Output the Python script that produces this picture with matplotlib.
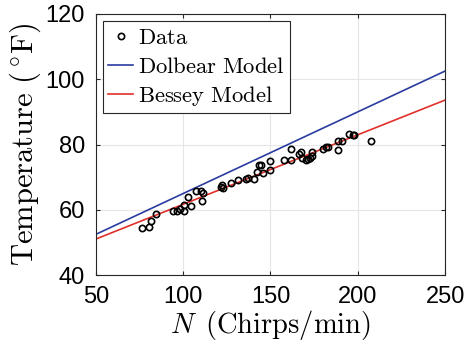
import matplotlib
matplotlib.use("Agg")
import matplotlib.pyplot as plt
import numpy as np

plt.rcParams['mathtext.fontset'] = 'cm'
plt.rcParams['font.family'] = ['Liberation Sans', 'DejaVu Sans']

# chirp rate (chirps/min) and temperature (F)
chirps = [76.5, 80.5, 81.7, 84.7, 94.3, 96.6, 98.3, 100.6, 100.4, 102.5,
          104.6, 107.4, 110.3, 111.5, 110.7, 121.4, 122.5, 122.9, 127.5, 131.3,
          135.7, 137.2, 140.6, 142.5, 143.5, 144.8, 145.8, 149.8, 149.8, 157.6,
          161.6, 161.6, 166.4, 167.7, 168.3, 170.6, 171.6, 172.5, 173.5, 173.5,
          180.2, 181.7, 183.0, 188.4, 188.7, 191.0, 194.7, 197.3, 197.9, 207.4]
temps = [54.4, 54.7, 56.7, 58.8, 59.7, 59.7, 60.2, 59.6, 61.6, 63.8,
         61.2, 65.8, 65.8, 65.1, 62.7, 67.1, 67.7, 66.8, 68.2, 69.2,
         69.5, 69.8, 69.5, 71.5, 73.8, 73.8, 71.2, 75.0, 72.2, 75.2,
         78.5, 75.2, 77.0, 77.6, 75.8, 75.3, 75.5, 76.0, 77.7, 76.5,
         78.7, 79.1, 79.3, 78.3, 81.2, 81.2, 83.3, 82.8, 82.8, 81.1]

N = np.array([50, 250])
dolbear = 50 + (N - 40) / 4
bessey = 60 + (N - 92) / 4.7

fig = plt.figure(figsize=(4.7, 3.47), dpi=100)
ax = fig.add_axes([0.204, 0.207, 0.743, 0.753])

ax.plot(chirps, temps, 'o', mfc='none', mec='black', ms=4.5, mew=1.2,
        label=r'$\mathrm{Data}$', zorder=3)
ax.plot(N, dolbear, color='#2a3c9f', lw=1.2, label=r'$\mathrm{Dolbear\ Model}$')
ax.plot(N, bessey, color='#e0302a', lw=1.2, label=r'$\mathrm{Bessey\ Model}$')

ax.set_xlim(50, 250)
ax.set_ylim(40, 120)
ax.set_xticks([50, 100, 150, 200, 250])
ax.set_yticks([40, 60, 80, 100, 120])
ax.grid(True, color='#e6e6e6', lw=0.8)
ax.set_axisbelow(True)
ax.tick_params(direction='in', top=True, right=True, labelsize=17, length=3,
               color='#262626', pad=8)
for s in ax.spines.values():
    s.set_color('#262626')
    s.set_linewidth(0.8)

ax.set_xlabel(r'$N\ \,\mathrm{(Chirps/min)}$', fontsize=20.5, labelpad=0)
ax.set_ylabel(r'$\mathrm{Temperature\ (\,^{\circ}F)}$', fontsize=22, labelpad=2)

leg = ax.legend(loc='upper left', fontsize=16.3, fancybox=False, framealpha=1,
                edgecolor='#262626', handlelength=1.1, handletextpad=0.2,
                borderpad=0.25, labelspacing=0.25, borderaxespad=0.3)
leg.get_frame().set_linewidth(0.8)

fig.savefig('out.png', dpi=100)
